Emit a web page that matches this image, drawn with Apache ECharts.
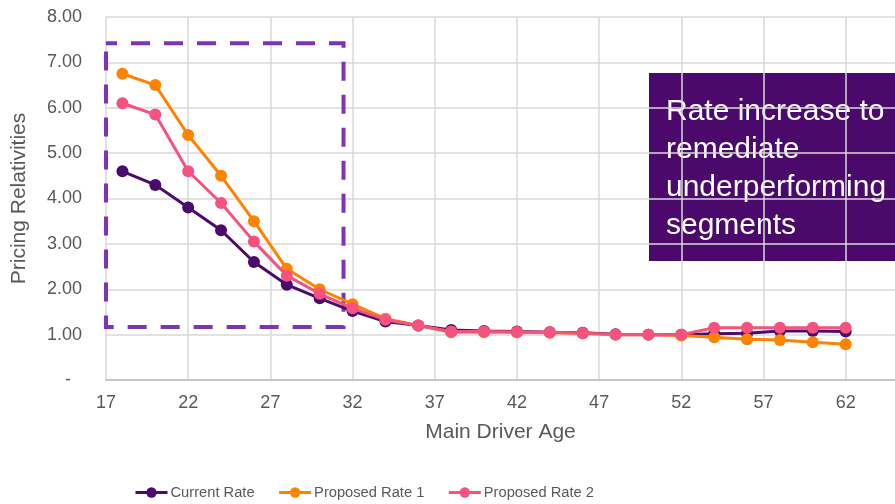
<!DOCTYPE html>
<html>
<head>
<meta charset="utf-8">
<script src="https://cdn.jsdelivr.net/npm/echarts@6/dist/echarts.min.js"></script>
<style>
  html, body { margin: 0; padding: 0; background: #ffffff; }
  #chart { width: 895px; height: 504px; }
</style>
</head>
<body>
<div id="chart"></div>
<script>
// Main driver age (every second year)
const ages = [18, 20, 22, 24, 26, 28, 30, 32, 34, 36, 38, 40, 42, 44, 46, 48, 50, 52, 54, 56, 58, 60, 62];

// Pricing relativities per rate version
const currentRate   = [4.60, 4.30, 3.80, 3.30, 2.60, 2.10, 1.80, 1.52, 1.29, 1.20, 1.10, 1.08, 1.07, 1.05, 1.04, 1.01, 1.00, 1.00, 1.02, 1.03, 1.08, 1.08, 1.07];
const proposedRate1 = [6.75, 6.50, 5.40, 4.50, 3.50, 2.45, 2.00, 1.67, 1.35, 1.20, 1.05, 1.05, 1.05, 1.04, 1.03, 1.00, 1.00, 0.98, 0.94, 0.90, 0.88, 0.83, 0.79];
const proposedRate2 = [6.10, 5.85, 4.60, 3.90, 3.05, 2.30, 1.90, 1.58, 1.33, 1.20, 1.07, 1.07, 1.06, 1.05, 1.03, 1.00, 1.00, 1.00, 1.15, 1.15, 1.15, 1.15, 1.15];

const seriesNames = ['Current Rate', 'Proposed Rate 1', 'Proposed Rate 2'];
const seriesColors = ['#4b0a6e', '#ff8200', '#f5527f'];

// Axis ranges
const xMin = 17, xMax = 65, xStep = 5;
const yMin = 0, yMax = 8, yStep = 1;

// Young-driver segment highlighted by the dashed box (age range, relativity range)
const focusAges = [16.65, 31.45];
const focusRel = [1.17, 7.42];

const noteText = 'Rate increase to\nremediate\nunderperforming\nsegments';

const FONT = '"Liberation Sans", Arial, sans-serif';
const GREY = '#595959';

const chart = echarts.init(document.getElementById('chart'), null, { renderer: 'canvas' });

function pairs(values) {
  return ages.map((a, i) => [a, values[i]]);
}

const series = [currentRate, proposedRate1, proposedRate2].map((vals, i) => ({
  name: seriesNames[i],
  type: 'line',
  data: pairs(vals),
  color: seriesColors[i],
  symbol: 'circle',
  symbolSize: 12,
  showAllSymbol: true,
  clip: false,
  lineStyle: { width: 3, color: seriesColors[i] },
  itemStyle: { color: seriesColors[i] },
  emphasis: { disabled: true },
  z: 3 + i
}));

series[0].markArea = {
  silent: true,
  label: { show: false },
  itemStyle: {
    color: 'rgba(0,0,0,0)',
    borderColor: '#7d35b4',
    borderWidth: 4,
    borderType: [19, 14],
    borderDashOffset: 8
  },
  data: [[
    { coord: [focusAges[0], focusRel[1]] },
    { coord: [focusAges[1], focusRel[0]] }
  ]]
};

chart.setOption({
  animation: false,
  backgroundColor: '#ffffff',
  textStyle: { fontFamily: FONT },
  grid: { left: 106, right: 0, top: 17, bottom: 124, containLabel: false },
  xAxis: {
    type: 'value',
    min: xMin,
    max: xMax,
    interval: xStep,
    name: 'Main Driver Age',
    nameLocation: 'middle',
    nameGap: 42,
    nameTextStyle: { fontSize: 21, color: GREY, fontFamily: FONT },
    axisLine: { show: true, lineStyle: { color: '#bfbfbf', width: 1.5 } },
    axisTick: { show: false },
    axisLabel: { fontSize: 18, color: GREY, margin: 14, showMaxLabel: false, fontFamily: FONT },
    splitLine: { show: true, showMaxLine: false, lineStyle: { color: '#d9d9d9', width: 1.5 } }
  },
  yAxis: {
    type: 'value',
    min: yMin,
    max: yMax,
    interval: yStep,
    name: 'Pricing Relativities',
    nameLocation: 'middle',
    nameGap: 76,
    nameTextStyle: { fontSize: 21, color: GREY, fontFamily: FONT },
    axisLine: { show: false },
    axisTick: { show: false },
    axisLabel: {
      fontSize: 18,
      color: GREY,
      margin: 24,
      fontFamily: FONT,
      formatter: v => (v === 0 ? '{z|-}' : v.toFixed(2)),
      rich: { z: { fontSize: 18, color: GREY, padding: [0, 11, 0, 0], fontFamily: FONT } }
    },
    splitLine: { show: true, lineStyle: { color: '#d9d9d9', width: 1.5 } }
  },
  legend: {
    data: seriesNames,
    left: 134,
    top: 485,
    padding: 0,
    itemWidth: 32,
    itemHeight: 13,
    itemGap: 23,
    lineStyle: { width: 3 },
    textStyle: { fontSize: 14.7, color: GREY, fontFamily: FONT, padding: [0, 0, 0, -2] }
  },
  graphic: [{
    type: 'group',
    left: 649,
    top: 73,
    silent: true,
    children: [
      { type: 'rect', shape: { x: 0, y: 0, width: 250, height: 188 }, style: { fill: '#4b0a6b' } },
      {
        type: 'text',
        x: 17,
        y: 20,
        style: {
          text: noteText,
          fill: '#ffffff',
          font: '30px ' + FONT,
          lineHeight: 38,
          textVerticalAlign: 'top'
        }
      }
    ]
  }],
  series: series
});
</script>
</body>
</html>
